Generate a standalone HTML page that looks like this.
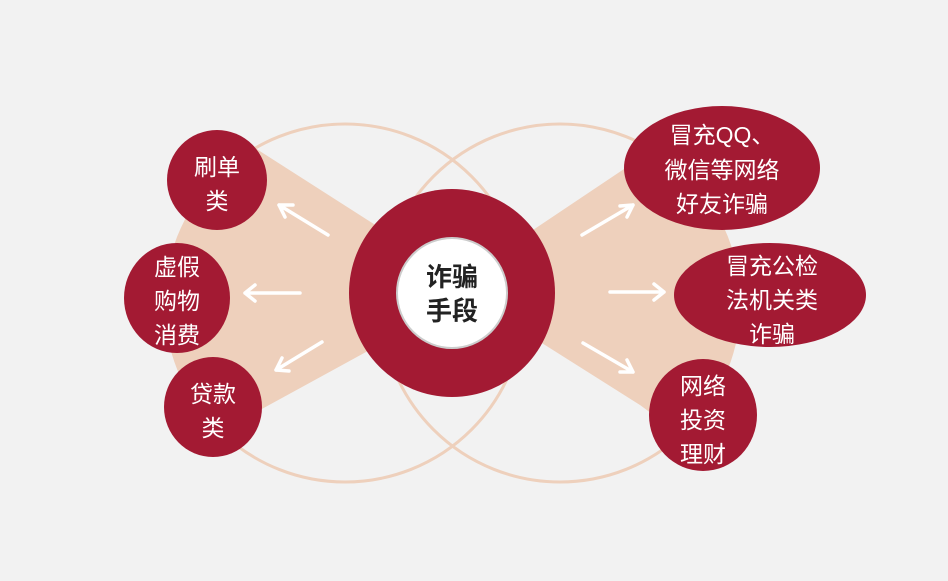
<!DOCTYPE html>
<html><head><meta charset="utf-8"><style>
html,body{margin:0;padding:0;background:#f2f2f2;width:948px;height:581px;overflow:hidden}
svg{display:block}
text{font-family:"Liberation Sans","Noto Sans CJK SC",sans-serif;}
</style></head><body>
<svg width="948" height="581" viewBox="0 0 948 581">
<defs>
<clipPath id="cl"><circle cx="345" cy="303" r="179"/></clipPath>
<clipPath id="cr"><circle cx="560" cy="303" r="179"/></clipPath>
</defs>
<rect width="948" height="581" fill="#f2f2f2"/>
<polygon clip-path="url(#cl)" points="452,274 255,148 100,50 100,560 260,410 452,305" fill="#eed0bc"/>
<polygon clip-path="url(#cr)" points="452,290 530,232 630,165 850,30 850,560 640,405 545,345" fill="#eed0bc"/>
<circle cx="345" cy="303" r="179" fill="none" stroke="#eed0bc" stroke-width="3"/>
<circle cx="560" cy="303" r="179" fill="none" stroke="#eed0bc" stroke-width="3"/>
<ellipse cx="452" cy="293" rx="103" ry="104" fill="#a31a33"/>
<circle cx="452" cy="293" r="55" fill="#fff" stroke="#ccc" stroke-width="2"/>
<text x="452" y="286" text-anchor="middle" font-size="26" font-weight="bold" fill="#222">诈骗</text>
<text x="452" y="320" text-anchor="middle" font-size="26" font-weight="bold" fill="#222">手段</text>
<g stroke="#fff" stroke-width="3.5" fill="none" stroke-linecap="round" stroke-linejoin="round">
<path d="M328,235 L279,205 M279,205 l14,0 M279,205 l6,12"/>
<path d="M300,293 L245,293 M245,293 l10,-8 M245,293 l10,8"/>
<path d="M322,342 L276,370 M276,370 l6,-12 M276,370 l13,1"/>
<path d="M582,235 L633,205 M633,205 l-13,1 M633,205 l-6,12"/>
<path d="M610,292 L664,292 M664,292 l-10,-8 M664,292 l-10,8"/>
<path d="M583,343 L633,372 M633,372 l-6,-12 M633,372 l-13,0"/>
</g>
<g fill="#a31a33">
<circle cx="217" cy="180" r="50"/>
<ellipse cx="177" cy="298" rx="53" ry="55"/>
<ellipse cx="213" cy="407" rx="49" ry="50"/>
<ellipse cx="722" cy="168" rx="98" ry="62"/>
<ellipse cx="770" cy="295" rx="96" ry="52"/>
<ellipse cx="703" cy="415" rx="54" ry="56"/>
</g>
<g fill="#fff" font-size="23" text-anchor="middle">
<text x="217" y="175">刷单</text><text x="217" y="209">类</text>
<text x="177" y="275">虚假</text><text x="177" y="309">购物</text><text x="177" y="343">消费</text>
<text x="213" y="402">贷款</text><text x="213" y="436">类</text>
<text x="722" y="143">冒充QQ、</text><text x="722" y="178">微信等网络</text><text x="722" y="212">好友诈骗</text>
<text x="772" y="274">冒充公检</text><text x="772" y="308">法机关类</text><text x="772" y="342">诈骗</text>
<text x="703" y="394">网络</text><text x="703" y="428">投资</text><text x="703" y="462">理财</text>
</g>
</svg>
</body></html>
